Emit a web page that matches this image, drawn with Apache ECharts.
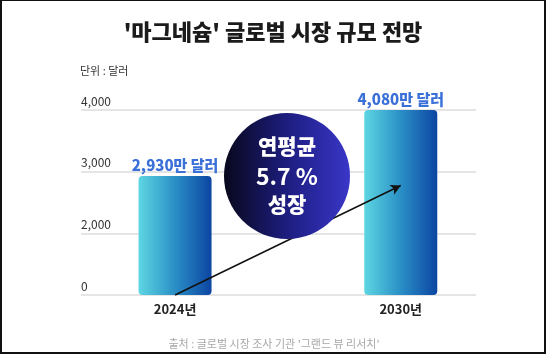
<!DOCTYPE html>
<html>
<head>
<meta charset="utf-8">
<script src="https://cdn.jsdelivr.net/npm/echarts@6/dist/echarts.min.js"></script>
<style>
  html, body { margin: 0; padding: 0; background: #fff; }
  #chart {
    width: 546px;
    height: 354px;
    box-sizing: border-box;
    border: 2px solid #111;
    border-top-width: 1px;
  }
</style>
</head>
<body>
<div id="chart"></div>
<script>
// 연도 / 시장 규모 (만 달러)
const years = [2024, 2030]
const yearLabels = ['2024년', '2030년']
const marketSize = [2930, 4080]
const barLabels = ['2,930만 달러', '4,080만 달러']
// 축이 잘려 있음: 맨 아래 눈금은 '0'으로 표시
const yTicks = [1000, 2000, 3000, 4000]
const yTickLabels = ['0', '2,000', '3,000', '4,000']
// 성장 화살표 (2024 바닥 -> 2030 막대 안쪽)
const arrowFrom = [2024, 1000]
const arrowTo = [2030, 2775]

const font = '"Noto Sans CJK KR", "Noto Sans", sans-serif'
const chart = echarts.init(document.getElementById('chart'))

const option = {
  backgroundColor: '#fff',
  animation: false,
  textStyle: { fontFamily: font },
  title: {
    text: "'마그네슘' 글로벌 시장 규모 전망",
    left: 'center',
    top: 15,
    textStyle: { fontFamily: font, fontSize: 22, fontWeight: 900, color: '#1b1b1b' }
  },
  grid: { left: 79, right: 68, top: 109, bottom: 57 },
  xAxis: {
    type: 'value',
    min: 2021.5,
    max: 2032,
    axisLine: { show: false },
    axisTick: { show: false },
    splitLine: { show: false },
    axisLabel: {
      customValues: years,
      margin: 8,
      fontSize: 13,
      fontWeight: 'bold',
      color: '#222',
      fontFamily: font,
      formatter: v => yearLabels[years.indexOf(v)]
    }
  },
  yAxis: {
    type: 'value',
    min: 1000,
    max: 4000,
    interval: 1000,
    axisLine: { show: false },
    axisTick: { show: false },
    splitLine: { lineStyle: { color: '#dcdcdc', width: 1.5 } },
    axisLabel: {
      inside: true,
      margin: 0,
      fontSize: 12,
      color: '#333',
      fontFamily: font,
      verticalAlign: 'bottom',
      padding: [0, 0, 3, 0],
      formatter: v => yTickLabels[yTicks.indexOf(v)]
    }
  },
  series: [
    {
      type: 'bar',
      barWidth: 73,
      data: years.map((y, i) => [y, marketSize[i]]),
      itemStyle: {
        borderRadius: 4,
        color: new echarts.graphic.LinearGradient(0, 0, 1, 0, [
          { offset: 0, color: '#5dd6e2' },
          { offset: 0.5, color: '#2a8fc6' },
          { offset: 1, color: '#0c45a2' }
        ])
      },
      label: {
        show: true,
        position: 'top',
        distance: 3,
        fontSize: 15,
        fontWeight: 900,
        color: '#3b70d8',
        fontFamily: font,
        formatter: p => barLabels[p.dataIndex]
      },
      markLine: {
        silent: true,
        symbol: ['none', 'arrow'],
        symbolSize: [8, 10],
        label: { show: false },
        lineStyle: { color: '#111', width: 1.5, type: 'solid' },
        data: [[{ coord: arrowFrom }, { coord: arrowTo }]]
      }
    }
  ],
  graphic: [
    {
      type: 'text',
      left: 78,
      top: 64,
      style: { text: '단위 : 달러', fill: '#333', font: '11px ' + font }
    },
    {
      type: 'circle',
      z: 100,
      shape: { cx: 285, cy: 175, r: 63 },
      style: {
        fill: new echarts.graphic.LinearGradient(0, 0, 1, 0, [
          { offset: 0, color: '#08081c' },
          { offset: 0.5, color: '#1d1d80' },
          { offset: 1, color: '#3a36c8' }
        ])
      }
    },
    {
      type: 'text',
      z: 101,
      x: 285,
      y: 145,
      style: { text: '연평균', fill: '#fff', font: '900 21px ' + font, textAlign: 'center', textVerticalAlign: 'middle' }
    },
    {
      type: 'text',
      z: 101,
      x: 285,
      y: 175,
      style: { text: '5.7 %', fill: '#fff', font: 'bold 23px ' + font, textAlign: 'center', textVerticalAlign: 'middle' }
    },
    {
      type: 'text',
      z: 101,
      x: 285,
      y: 203,
      style: { text: '성장', fill: '#fff', font: '900 21px ' + font, textAlign: 'center', textVerticalAlign: 'middle' }
    },
    {
      type: 'text',
      x: 272,
      y: 343,
      style: { text: "출처 : 글로벌 시장 조사 기관 '그랜드 뷰 리서치'", fill: '#a8a8a8', font: '11px ' + font, textAlign: 'center', textVerticalAlign: 'middle' }
    }
  ]
}

chart.setOption(option)
</script>
</body>
</html>
